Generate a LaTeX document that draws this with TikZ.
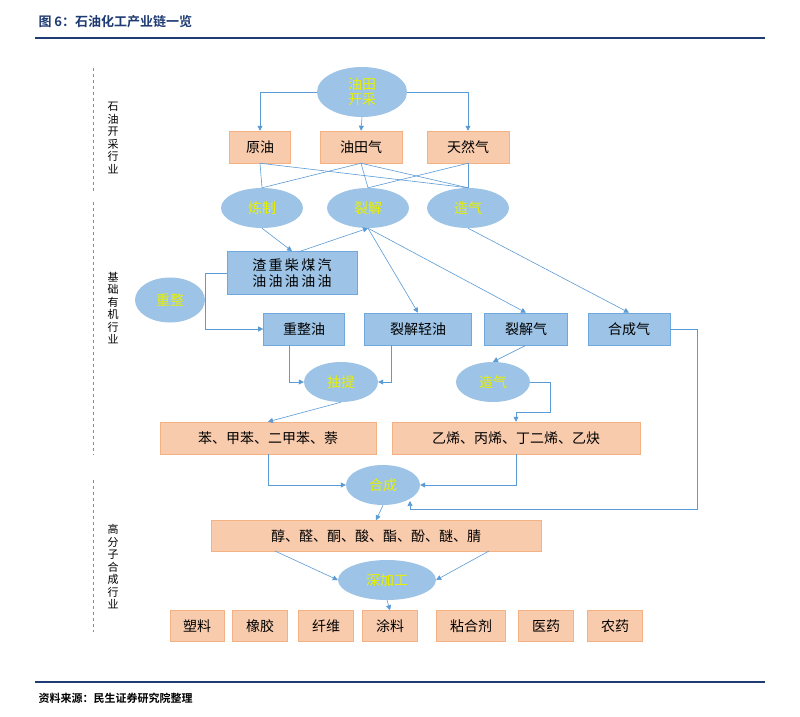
\documentclass[tikz,border=0pt]{standalone}
\usepackage{fontspec}
\setmainfont{Noto Sans CJK SC}
\newfontfamily\cjkb{Noto Sans CJK SC}[BoldFont={* Bold}]
\usetikzlibrary{shapes.geometric,arrows.meta}
\definecolor{ln}{HTML}{5B9BD5}
\definecolor{ell}{HTML}{9DC3E6}
\definecolor{ora}{HTML}{F8CBAD}
\definecolor{oraB}{HTML}{F4B183}
\definecolor{blu}{HTML}{9DC3E6}
\definecolor{bluB}{HTML}{6FA8DC}
\definecolor{ylw}{HTML}{E8F000}
\definecolor{hd}{HTML}{1F3B73}
\tikzset{
 x=1pt,y=-1pt,
 ov/.style={ellipse,fill=ell,draw=none,inner sep=0pt,text=ylw,font=\fontsize{14}{15}\selectfont,align=center},
 ob/.style={rectangle,fill=ora,draw=oraB,line width=0.5pt,inner sep=0pt,font=\fontsize{14}{15}\selectfont,minimum height=32pt},
 bb/.style={rectangle,fill=blu,draw=bluB,line width=0.6pt,inner sep=0pt,font=\fontsize{14}{15}\selectfont,minimum height=32pt},
 cn/.style={draw=ln,line width=0.6pt},
 ar/.style={cn,-{Triangle[length=5pt,width=5pt]}},
 side/.style={font=\fontsize{11}{12.5}\selectfont,align=center},
 dl/.style={draw=ln,dashed,line width=1pt}
}
\begin{document}
\begin{tikzpicture}
\useasboundingbox (0,0) rectangle (800,717);
\fill[white] (0,0) rectangle (800,717);
\node[anchor=west,text=hd,font=\cjkb\bfseries\fontsize{13}{14}\selectfont] (title) at (35,22) {图 6：石油化工产业链一览};
\draw[hd,line width=1.5pt] (35,38) -- (765,38);
\draw[hd,line width=1.2pt] (35,682) -- (765,682);
\node[anchor=west,font=\cjkb\bfseries\fontsize{11}{12}\selectfont] (src) at (35,698) {资料来源：民生证券研究院整理};
\draw[dl] (93,68) -- (93,192);
\draw[dl] (93,202) -- (93,455);
\draw[dl] (93,480) -- (93,632);
\node[side] (s1) at (113,138) {石\\油\\开\\采\\行\\业};
\node[side] (s2) at (113,308) {基\\础\\有\\机\\行\\业};
\node[side] (s3) at (113,567) {高\\分\\子\\合\\成\\行\\业};
\node[ov,minimum width=90pt,minimum height=50pt] (yt) at (362,92) {油田\\开采};
\node[ob,minimum width=61pt] (yy) at (260,147) {原油};
\node[ob,minimum width=82pt] (ytq) at (361,147) {油田气};
\node[ob,minimum width=82pt] (trq) at (468,147) {天然气};
\node[ov,minimum width=82pt,minimum height=40pt] (lz) at (262,208) {炼制};
\node[ov,minimum width=82pt,minimum height=40pt] (lj) at (368,208) {裂解};
\node[ov,minimum width=82pt,minimum height=40pt] (zq) at (468,208) {造气};
\node[bb,minimum width=130pt,minimum height=43pt,align=center,font=\fontsize{14}{16}\selectfont] (zz) at (292,273) {渣\,重\,柴\,煤\,汽\\油\,油\,油\,油\,油};
\node[bb,minimum width=81pt] (zzy) at (304,329) {重整油};
\node[bb,minimum width=107pt] (ljqy) at (418,329) {裂解轻油};
\node[bb,minimum width=83pt] (ljq) at (526,329) {裂解气};
\node[bb,minimum width=82pt] (hcq) at (629,329) {合成气};
\draw[cn] (zz.west) -- (205,273) -- (205,329);
\node[ov,minimum width=70pt,minimum height=45pt] (cz) at (170,300) {重整};
\node[ov,minimum width=74pt,minimum height=40pt] (ct) at (341,382) {抽提};
\node[ov,minimum width=74pt,minimum height=40pt] (zq2) at (493,382) {造气};
\node[ob,minimum width=216pt] (ben) at (268,438) {苯、甲苯、二甲苯、萘};
\node[ob,minimum width=248pt] (yx) at (516,438) {乙烯、丙烯、丁二烯、乙炔};
\node[ov,minimum width=74pt,minimum height=40pt] (hc) at (383,485) {合成};
\node[ob,minimum width=330pt,minimum height=31pt] (chun) at (376,536) {醇、醛、酮、酸、酯、酚、醚、腈};
\node[ov,minimum width=98pt,minimum height=40pt] (sjg) at (387,580) {深加工};
\node[ob,minimum width=54pt,minimum height=31pt] (p1) at (197,626) {塑料};
\node[ob,minimum width=55pt,minimum height=31pt] (p2) at (260,626) {橡胶};
\node[ob,minimum width=55pt,minimum height=31pt] (p3) at (326,626) {纤维};
\node[ob,minimum width=55pt,minimum height=31pt] (p4) at (390,626) {涂料};
\node[ob,minimum width=69pt,minimum height=31pt] (p5) at (471,626) {粘合剂};
\node[ob,minimum width=55pt,minimum height=31pt] (p6) at (546,626) {医药};
\node[ob,minimum width=55pt,minimum height=31pt] (p7) at (615,626) {农药};
\draw[ar] (yt.west) -| (yy.north);
\draw[ar] (yt.east) -| (trq.north);
\draw[ar] (yt.south) -- (ytq.north);
\draw[cn] (yy.south) -- (lz.north);
\draw[cn] (yy.south) -- (zq.north);
\draw[cn] (ytq.south) -- (lz.north);
\draw[cn] (ytq.south) -- (lj.north);
\draw[cn] (ytq.south) -- (zq.north);
\draw[cn] (trq.south) -- (lj.north);
\draw[cn] (trq.south) -- (zq.north);
\draw[ar] (lz.south) -- (zz.north);
\coordinate (zt) at (298,252);
\draw[ar] (zt) -- (lj.south);
\draw[ar] (lj.south) -- (ljqy.north);
\draw[ar] (lj.south) -- (ljq.north);
\draw[ar] (zq.south) -- (hcq.north);
\draw[ar] (205,329) -- (zzy.west);
\draw[ar] (289,345) -- (289,382) -- (ct.west);
\draw[ar] (391,345) -- (391,382) -- (ct.east);
\draw[ar] (ct.south) -- (ben.north);
\draw[ar] (ljq.south) -- (zq2.north);
\draw[ar] (zq2.east) -- (550,382) -- (550,412) -- (516,412) -- (yx.north);
\draw[ar] (ben.south) |- (hc.west);
\draw[ar] (yx.south) |- (hc.east);
\draw[ar] (hcq.east) -- (697,329) -- (697,509) -- (410,509) -- (410,501);
\draw[ar] (hc.south) -- (chun.north);
\draw[ar] (275,551) -- (sjg.west);
\draw[ar] (489,551) -- (sjg.east);
\draw[ar] (sjg.south) -- (p4.north);
\end{tikzpicture}
\end{document}
